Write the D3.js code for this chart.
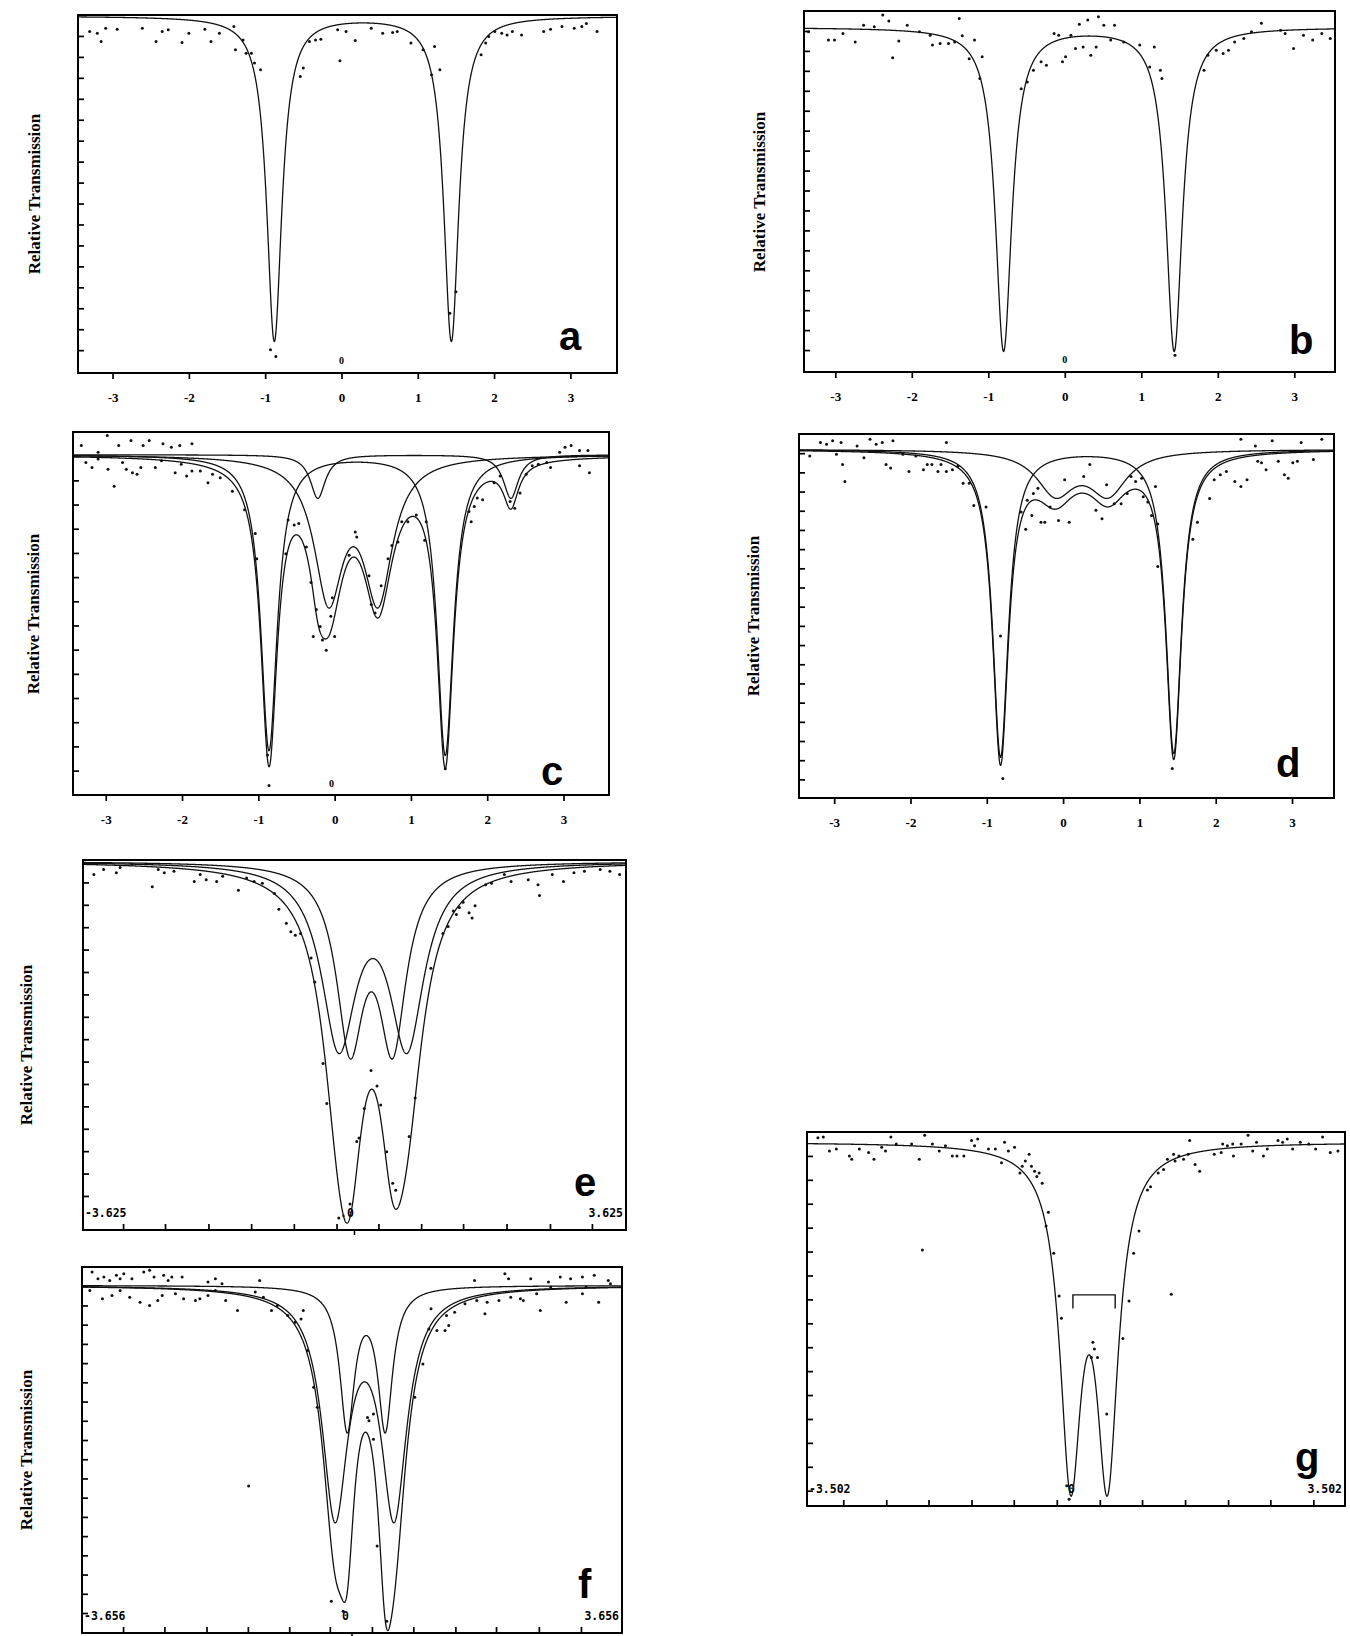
<!DOCTYPE html>
<html>
<head>
<meta charset="utf-8">
<script src="https://cdn.jsdelivr.net/npm/d3@7"></script>
<style>
  body { margin: 0; background: #fff; }
  svg { display: block; }
  .box { fill: none; stroke: #000; stroke-width: 2; }
  .fit { fill: none; stroke: #111; stroke-width: 1.3; }
  .pt { fill: #111; }
  .ytitle { font-family: "Liberation Serif", serif; font-weight: bold; font-size: 17px; }
  .letter { font-family: "Liberation Sans", Arial, sans-serif; font-weight: bold; font-size: 40px; }
  .xlab text { font-family: "Liberation Serif", serif; font-weight: bold; font-size: 13px; }
  .edge { font-family: "DejaVu Sans Mono", monospace; font-weight: bold; font-size: 11.5px; }
  .zero { font-family: "Liberation Serif", serif; font-weight: bold; font-size: 10px; }
  .tick line { stroke: #000; stroke-width: 1.7; }
</style>
</head>
<body>
<svg id="fig" width="1350" height="1636"></svg>
<script>
// ---- tick values / labels ----
var velTicks = [-3, -2, -1, 0, 1, 2, 3];
var eTicks = [-3.09, -2.53, -1.95, -1.38, -0.81, -0.24, 0.32, 0.89, 1.45, 2.03, 2.61, 3.17];
var fTicks = [-3.10, -2.54, -1.97, -1.41, -0.85, -0.30, 0.27, 0.83, 1.40, 1.95, 2.53, 3.10];
var gTicks = [-3.03, -2.47, -1.92, -1.36, -0.81, -0.25, 0.31, 0.86, 1.42, 1.98, 2.53, 3.09];
var eEdge = ["-3.625", "3.625"];
var fEdge = ["-3.656", "3.656"];
var gEdge = ["-3.502", "3.502"];
var yTitle = "Relative Transmission";

// ---- fitted lines: [centre (mm/s), half width, depth (%)] ----
var aBase = 99.95;
var aLines = [[-0.88, 0.12, 15.5], [1.44, 0.12, 15.5]];
var bBase = 99.18;
var bLines = [[-0.80, 0.13, 16.2], [1.43, 0.13, 16.2]];
var cBase = 99.06;
var cSharp = [[-0.86, 0.13, 12.2], [1.45, 0.13, 12.4]];
var cBroad = [[-0.08, 0.23, 5.7], [0.57, 0.23, 5.7]];
var cSmall = [[-0.22, 0.12, 1.8], [2.31, 0.12, 1.8]];
var dBase = 99.2;
var dSharp = [[-0.82, 0.125, 16.0], [1.45, 0.125, 15.8]];
var dBroad = [[-0.10, 0.30, 2.2], [0.59, 0.30, 2.2]];
var eBase = 99.94;
var eOuter = [[-0.21, 0.28, 7.9], [0.70, 0.28, 7.9]];
var eInner = [[-0.06, 0.22, 7.8], [0.51, 0.22, 7.8]];
var fBase = 99.04;
var fNarrow = [[-0.065, 0.12, 7.3], [0.45, 0.12, 7.3]];
var fBroad = [[-0.23, 0.21, 11.6], [0.57, 0.21, 11.6]];
var gBase = 99.57;
var gLines = [[-0.07, 0.17, 13.3], [0.41, 0.17, 13.3]];
var gBracket = [-0.04, 0.51, 93.19, 92.62];

// ---- measured points: [velocity, transmission %] ----
var aPts = [[-3.30,99.21],[-3.20,99.13],[-3.09,99.37],[-3.15,98.73],[-2.94,99.32],[-2.61,99.37],[-2.43,98.73],[-2.35,99.21],[-2.27,99.29],[-2.09,98.69],[-2.00,99.13],[-1.79,99.32],[-1.71,98.73],[-1.60,99.13],[-1.41,99.45],[-1.39,98.34],[-1.29,98.81],[-1.25,98.18],[-1.18,98.18],[-1.14,97.71],[-1.06,97.39],[-0.93,84.02],[-0.86,83.70],[-0.54,97.07],[-0.50,97.47],[-0.42,98.73],[-0.34,98.81],[-0.27,98.84],[-0.05,99.29],[-0.02,97.82],[0.06,99.21],[0.18,98.78],[0.39,99.37],[0.54,99.13],[0.67,99.16],[0.73,99.21],[0.91,98.66],[1.07,98.34],[1.18,97.15],[1.22,98.50],[1.29,97.39],[1.42,85.76],[1.50,86.79],[1.83,98.10],[1.89,98.66],[1.93,98.97],[2.01,99.21],[2.10,99.13],[2.17,99.05],[2.24,99.21],[2.36,99.05],[2.65,99.21],[2.74,99.32],[2.89,99.45],[3.05,99.37],[3.15,99.45],[3.21,99.60],[3.35,99.21]];
var bPts = [[-3.35,98.96],[-3.09,98.54],[-3.01,98.54],[-2.90,98.87],[-2.74,98.45],[-2.63,99.29],[-2.49,99.21],[-2.38,99.80],[-2.30,99.50],[-2.25,97.65],[-2.17,98.49],[-2.06,99.29],[-1.90,98.96],[-1.76,98.79],[-1.73,98.29],[-1.63,98.37],[-1.52,98.37],[-1.44,98.45],[-1.38,99.63],[-1.34,98.76],[-1.25,97.61],[-1.18,98.54],[-1.08,97.70],[-1.11,96.61],[-0.57,96.10],[-0.49,96.44],[-0.41,97.03],[-0.31,97.45],[-0.24,97.28],[-0.14,98.87],[-0.08,98.79],[-0.03,97.45],[0.01,97.70],[0.08,98.79],[0.14,98.12],[0.19,99.33],[0.24,98.20],[0.30,99.55],[0.34,97.78],[0.41,98.20],[0.44,99.71],[0.51,99.29],[0.60,98.54],[0.65,99.29],[0.77,98.45],[0.98,98.29],[1.11,97.19],[1.17,98.20],[1.25,97.03],[1.27,96.61],[1.44,82.74],[1.82,97.03],[1.87,97.78],[1.98,98.03],[2.07,97.87],[2.14,98.03],[2.22,98.45],[2.34,98.62],[2.44,98.96],[2.57,99.38],[2.82,99.04],[2.88,98.87],[2.99,98.12],[3.12,98.79],[3.24,98.54],[3.36,98.87],[3.47,98.62]];
var cPts = [[-3.32,99.44],[-3.10,99.16],[-2.98,99.86],[-2.83,99.44],[-2.67,99.65],[-2.51,99.44],[-2.43,99.65],[-2.25,99.51],[-2.14,99.37],[-2.03,99.44],[-1.87,99.51],[-3.26,98.74],[-3.18,98.53],[-3.10,98.88],[-2.97,98.46],[-2.89,97.76],[-2.78,98.74],[-2.73,98.46],[-2.65,98.32],[-2.59,98.25],[-2.54,98.53],[-2.35,98.53],[-2.27,98.81],[-2.09,98.32],[-2.01,98.67],[-1.94,98.18],[-1.87,98.39],[-1.76,98.39],[-1.66,97.90],[-1.60,98.25],[-1.50,98.11],[-1.34,97.55],[-1.18,96.78],[-1.04,95.80],[-1.02,94.76],[-0.88,86.64],[-0.86,85.38],[-0.64,94.97],[-0.61,96.36],[-0.53,96.15],[-0.47,96.22],[-0.37,95.24],[-0.31,93.78],[-0.28,91.54],[-0.24,92.66],[-0.19,91.96],[-0.16,91.40],[-0.11,90.98],[-0.05,92.38],[-0.03,93.15],[0.00,91.54],[0.19,94.90],[0.27,95.87],[0.29,95.66],[0.45,94.06],[0.48,92.87],[0.53,92.52],[0.61,93.64],[0.70,94.76],[0.75,95.31],[0.83,95.45],[0.88,96.29],[0.96,96.29],[1.07,96.57],[1.18,95.52],[1.20,96.29],[1.45,86.08],[1.76,96.71],[1.79,96.29],[1.83,96.92],[1.87,97.27],[1.94,97.20],[2.09,97.90],[2.17,98.18],[2.30,97.13],[2.36,96.85],[2.43,97.48],[2.51,98.25],[2.59,98.60],[2.67,98.67],[2.78,98.74],[2.83,98.53],[2.95,99.16],[3.02,99.37],[3.10,99.44],[3.21,99.23],[3.32,99.23],[3.34,98.32],[3.21,98.60]];
var dPts = [[-3.18,99.56],[-3.10,99.47],[-3.02,99.65],[-2.91,99.56],[-2.70,99.38],[-2.53,99.73],[-2.45,99.47],[-2.37,99.56],[-2.23,99.65],[-1.53,99.56],[2.33,99.73],[2.52,99.38],[2.74,99.65],[3.12,99.56],[3.39,99.73],[-3.32,98.85],[-2.97,98.94],[-2.89,98.41],[-2.86,97.52],[-2.61,98.76],[-2.32,98.41],[-2.26,98.23],[-2.10,98.94],[-2.02,98.05],[-1.93,98.85],[-1.83,98.14],[-1.78,98.41],[-1.72,98.41],[-1.64,98.05],[-1.60,98.41],[-1.53,98.05],[-1.45,98.14],[-1.38,98.32],[-1.31,97.43],[-1.23,97.43],[-1.17,96.28],[-1.01,96.19],[-0.82,89.47],[-0.79,82.04],[-0.55,95.93],[-0.49,95.04],[-0.47,96.55],[-0.41,95.75],[-0.39,96.90],[-0.33,97.17],[-0.29,95.40],[-0.24,95.40],[-0.17,96.19],[-0.06,95.49],[0.02,97.61],[0.08,95.40],[0.35,98.41],[0.27,97.79],[0.43,96.02],[0.51,95.58],[0.57,97.35],[0.67,96.37],[0.76,96.37],[0.84,96.90],[0.89,97.79],[0.95,97.52],[1.03,97.70],[1.05,96.73],[1.11,96.46],[1.16,95.75],[1.21,97.26],[1.24,95.31],[1.24,93.10],[1.43,82.57],[1.70,94.51],[1.76,95.40],[1.92,96.64],[1.98,97.61],[2.06,97.88],[2.14,98.05],[2.25,97.52],[2.33,97.26],[2.41,97.61],[2.55,98.58],[2.60,98.50],[2.66,98.14],[2.82,98.58],[2.90,97.88],[2.95,97.70],[3.01,98.50],[3.07,98.58],[3.28,98.67]];
var ePts = [[-3.48,99.35],[-3.35,99.58],[-3.18,99.43],[-3.13,99.66],[-2.97,99.81],[-2.70,98.81],[-2.62,99.58],[-2.54,99.43],[-2.41,99.50],[-2.14,99.04],[-2.06,99.35],[-1.98,99.12],[-1.84,99.04],[-1.76,99.27],[-1.55,98.65],[-1.44,99.20],[-1.34,99.04],[-1.23,98.96],[-1.07,98.50],[-1.01,97.80],[-0.91,97.18],[-0.85,96.80],[-0.79,96.64],[-0.72,96.72],[-0.58,95.63],[-0.53,94.55],[-0.42,90.91],[-0.37,89.13],[-0.21,84.02],[-0.06,84.64],[0.03,87.43],[0.06,87.59],[0.13,88.90],[0.22,90.60],[0.30,89.91],[0.35,89.06],[0.43,86.97],[0.51,85.57],[0.55,85.26],[0.73,87.66],[0.81,89.37],[1.02,95.17],[1.18,96.72],[1.25,97.03],[1.32,97.72],[1.36,97.57],[1.40,97.88],[1.45,98.11],[1.53,97.65],[1.57,97.41],[1.61,97.96],[1.75,98.89],[1.83,98.96],[2.00,99.35],[2.09,99.04],[2.32,99.12],[2.45,98.89],[2.47,98.42],[2.64,99.35],[2.79,99.04],[2.93,99.43],[3.07,99.50],[3.28,99.58],[3.41,99.50],[3.54,99.35]];
var fPts = [[-3.52,99.74],[-3.44,99.39],[-3.36,99.48],[-3.28,99.30],[-3.19,99.57],[-3.14,99.39],[-3.09,99.65],[-2.98,99.39],[-2.82,99.74],[-2.74,99.83],[-2.68,99.48],[-2.55,99.57],[-2.49,99.30],[-2.44,99.48],[-2.30,99.48],[-1.95,99.22],[-1.85,99.39],[-1.76,99.13],[-1.25,99.30],[1.66,99.30],[2.07,99.65],[2.12,99.39],[2.42,99.39],[2.66,99.22],[2.82,99.48],[2.96,99.39],[3.12,99.48],[3.28,99.57],[3.47,99.30],[-3.55,98.78],[-3.38,98.35],[-3.25,98.52],[-3.14,98.78],[-3.01,98.43],[-2.87,98.17],[-2.74,98.00],[-2.63,98.26],[-2.57,98.52],[-2.39,98.61],[-2.28,98.35],[-2.12,98.26],[-2.06,98.35],[-1.95,98.52],[-1.85,98.78],[-1.71,98.26],[-1.55,97.74],[-1.31,98.70],[-1.20,98.43],[-1.09,97.74],[-1.01,98.00],[-0.87,97.48],[-0.77,97.13],[-0.69,97.30],[-0.66,97.74],[-0.60,95.65],[-0.52,93.74],[-0.47,92.70],[-0.28,82.61],[-0.12,82.09],[0.21,92.17],[0.29,92.35],[0.23,92.00],[0.29,91.04],[0.34,85.48],[0.47,81.57],[0.85,93.22],[0.96,94.96],[1.04,96.78],[1.07,97.83],[1.15,96.70],[1.26,96.70],[1.31,96.96],[1.28,97.48],[1.39,97.65],[1.53,98.09],[1.69,98.26],[1.80,97.57],[1.83,98.17],[1.99,98.26],[2.15,98.43],[2.28,98.35],[2.32,98.26],[2.50,98.61],[2.55,97.74],[2.69,98.96],[2.90,98.17],[3.12,98.61],[3.17,98.96],[3.34,98.17],[3.50,99.13],[-1.40,88.61]];
var gPts = [[-3.36,99.76],[-3.29,99.79],[-3.21,99.21],[-3.12,99.29],[-2.95,99.00],[-2.92,98.86],[-2.82,99.29],[-2.70,99.14],[-2.63,98.86],[-2.53,99.36],[-2.48,99.21],[-2.41,99.79],[-2.34,99.50],[-2.14,99.50],[-2.04,98.86],[-1.97,99.86],[-1.87,99.50],[-1.78,99.21],[-1.70,99.43],[-1.61,99.00],[-1.55,99.00],[-1.46,99.00],[-1.36,99.64],[-1.32,99.43],[-1.28,99.71],[-1.14,99.29],[-1.05,99.29],[-0.97,98.71],[-0.93,99.57],[-0.88,99.21],[-0.80,99.36],[-0.73,98.29],[-0.70,98.57],[-0.66,98.79],[-0.61,99.07],[-0.58,98.57],[-0.54,98.36],[-0.51,98.14],[-0.48,98.29],[-0.44,97.86],[-0.39,96.07],[-0.36,96.64],[-0.29,94.93],[-0.22,93.14],[-0.19,92.21],[-0.12,85.21],[-0.09,84.64],[0.22,91.21],[0.24,90.93],[0.20,90.57],[0.28,90.57],[0.40,88.21],[0.61,91.36],[0.69,92.93],[0.75,94.93],[0.82,95.86],[0.93,97.57],[0.97,97.71],[1.07,98.29],[1.14,98.43],[1.19,98.86],[1.27,99.07],[1.29,98.79],[1.34,99.00],[1.40,98.86],[1.46,99.07],[1.48,99.64],[1.55,98.64],[1.61,98.36],[1.80,99.07],[1.89,99.14],[1.91,99.50],[1.97,99.43],[2.04,99.50],[2.05,99.00],[2.15,99.50],[2.24,99.86],[2.30,99.21],[2.35,99.57],[2.44,99.00],[2.49,99.29],[2.63,99.64],[2.69,99.57],[2.75,99.71],[2.82,99.29],[2.92,99.57],[3.03,99.50],[3.12,99.29],[3.21,99.79],[3.31,99.14],[3.41,99.21],[-2.00,95.07],[1.24,93.21]];

// ---- layout of the seven frames ----
var panels = [
  { id: "a", x0: 78, x1: 617, y0: 15, y1: 373, xDom: [-3.453, 3.611], yMin: 82.91, yTicks: d3.range(84, 100),
    base: aBase, comps: [aLines], pts: aPts, style: "vel", letter: [559, 350], title: [34, 194], zero: [0, 364] },
  { id: "b", x0: 804, x1: 1335, y0: 11, y1: 372, xDom: [-3.409, 3.532], yMin: 81.90, yTicks: d3.range(83, 100),
    base: bBase, comps: [bLines], pts: bPts, style: "vel", letter: [1289, 354], title: [759, 192], zero: [0, 363] },
  { id: "c", x0: 73, x1: 609, y0: 432, y1: 795, xDom: [-3.429, 3.596], yMin: 84.99, yTicks: d3.range(86, 100),
    base: cBase, comps: [cSharp, cBroad, cSmall], pts: cPts, style: "vel", letter: [541, 785], title: [33, 614], zero: [-0.04, 787] },
  { id: "d", x0: 799, x1: 1334, y0: 434, y1: 798, xDom: [-3.461, 3.550], yMin: 81.03, yTicks: d3.range(82, 100),
    base: dBase, comps: [dSharp, dBroad], pts: dPts, style: "vel", letter: [1276, 777], title: [753, 616] },
  { id: "e", x0: 83, x1: 626, y0: 860, y1: 1230, xDom: [-3.625, 3.625], yMin: 83.48, yTicks: d3.range(85, 100),
    base: eBase, comps: [eOuter, eInner], pts: ePts, style: "chan", ticks: eTicks, edge: eEdge, zeroText: ".0", zeroV: -0.1,
    letter: [574, 1196], title: [26, 1045] },
  { id: "f", x0: 82, x1: 622, y0: 1267, y1: 1633, xDom: [-3.656, 3.656], yMin: 80.96, yTicks: d3.range(82, 100),
    base: fBase, comps: [fNarrow, fBroad], pts: fPts, style: "chan", ticks: fTicks, edge: fEdge, zeroText: "0", zeroV: -0.09,
    letter: [578, 1598], title: [26, 1450] },
  { id: "g", x0: 807, x1: 1345, y0: 1132, y1: 1506, xDom: [-3.502, 3.502], yMin: 84.36, yTicks: d3.range(85, 100),
    base: gBase, comps: [gLines], pts: gPts, style: "chan", ticks: gTicks, edge: gEdge, zeroText: "0", zeroV: -0.06,
    letter: [1295, 1471], bracket: gBracket }
];

var svg = d3.select("#fig");

// absorption of a set of lorentzian lines at velocity v
function absorb(lines, v) {
  var s = 0;
  lines.forEach(function(l) {
    var u = (v - l[0]) / l[1];
    s += l[2] / (1 + u * u);
  });
  return s;
}

function drawPanel(p) {
  var x = d3.scaleLinear().domain(p.xDom).range([p.x0, p.x1]);
  var y = d3.scaleLinear().domain([p.yMin, 100]).range([p.y1, p.y0]);
  var g = svg.append("g").attr("class", "panel-" + p.id);

  g.append("clipPath").attr("id", "clip-" + p.id)
    .append("rect")
    .attr("x", p.x0).attr("y", p.y0)
    .attr("width", p.x1 - p.x0).attr("height", p.y1 - p.y0);

  // inner ticks on the left
  g.append("g")
    .attr("transform", "translate(" + p.x0 + ",0)")
    .call(d3.axisLeft(y).tickValues(p.yTicks).tickSize(-6).tickFormat(""))
    .call(function(s) { s.select(".domain").remove(); });

  if (p.style === "vel") {
    g.append("g")
      .attr("class", "xlab")
      .attr("transform", "translate(0," + p.y1 + ")")
      .call(d3.axisBottom(x).tickValues(velTicks).tickSize(6).tickPadding(14)
        .tickFormat(function(d) { return String(d); }))
      .call(function(s) { s.select(".domain").remove(); });
  } else {
    g.append("g")
      .attr("transform", "translate(0," + p.y1 + ")")
      .call(d3.axisBottom(x).tickValues(p.ticks).tickSize(-6).tickFormat(""))
      .call(function(s) { s.select(".domain").remove(); });
    g.append("text").attr("class", "edge")
      .attr("x", p.x0 + 2).attr("y", p.y1 - 13).text(p.edge[0]);
    g.append("text").attr("class", "edge")
      .attr("x", p.x1 - 3).attr("y", p.y1 - 13).attr("text-anchor", "end").text(p.edge[1]);
    g.append("text").attr("class", "edge")
      .attr("x", x(p.zeroV)).attr("y", p.y1 - 13).attr("text-anchor", "middle").text(p.zeroText);
    if (p.id !== "g") {
      g.append("line")
        .attr("x1", x(0)).attr("x2", x(0))
        .attr("y1", p.y1).attr("y2", p.y1 + 5)
        .attr("stroke", "#000").attr("stroke-width", 1.5);
    }
  }

  var plot = g.append("g").attr("clip-path", "url(#clip-" + p.id + ")");

  // fitted curves: each component, then the sum when there is more than one
  var vs = d3.range(p.xDom[0], p.xDom[1], 0.003);
  var curves = p.comps.slice();
  if (p.comps.length > 1) curves.push([].concat.apply([], p.comps));
  var line = d3.line()
    .x(function(v) { return x(v); });
  curves.forEach(function(lines) {
    line.y(function(v) { return y(p.base - absorb(lines, v)); });
    plot.append("path").attr("class", "fit").attr("d", line(vs));
  });

  plot.selectAll("circle.pt")
    .data(p.pts)
    .enter().append("circle")
    .attr("class", "pt")
    .attr("cx", function(d) { return x(d[0]); })
    .attr("cy", function(d) { return y(d[1]); })
    .attr("r", 1.5);

  if (p.bracket) {
    var b = p.bracket;
    plot.append("path")
      .attr("d", "M" + x(b[0]) + "," + y(b[3]) + "V" + y(b[2]) + "H" + x(b[1]) + "V" + y(b[3]))
      .attr("fill", "none").attr("stroke", "#111").attr("stroke-width", 1.4);
  }

  if (p.zero) {
    g.append("text").attr("class", "zero")
      .attr("x", x(p.zero[0])).attr("y", p.zero[1])
      .attr("text-anchor", "middle").text("0");
  }

  g.append("rect").attr("class", "box")
    .attr("x", p.x0).attr("y", p.y0)
    .attr("width", p.x1 - p.x0).attr("height", p.y1 - p.y0);

  g.append("text").attr("class", "letter")
    .attr("x", p.letter[0]).attr("y", p.letter[1]).text(p.id);

  if (p.title) {
    g.append("text").attr("class", "ytitle")
      .attr("text-anchor", "middle")
      .attr("transform", "translate(" + p.title[0] + "," + p.title[1] + ") rotate(-90)")
      .attr("dy", "0.35em")
      .text(yTitle);
  }
}

panels.forEach(drawPanel);
</script>
</body>
</html>
